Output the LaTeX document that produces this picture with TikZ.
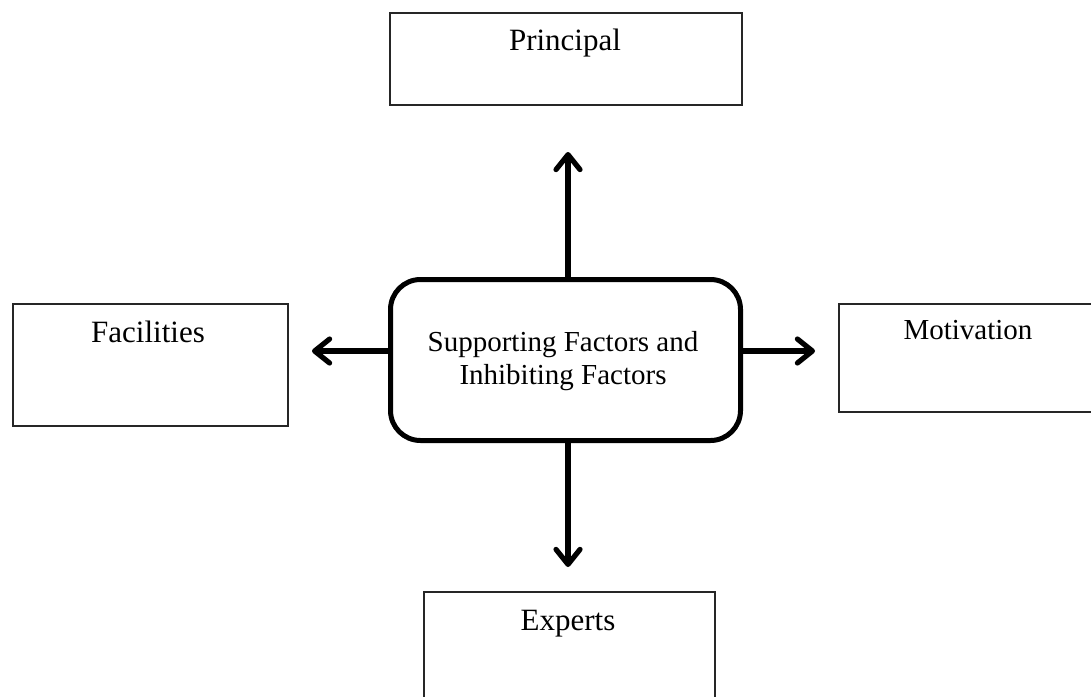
\documentclass[tikz,border=0pt]{standalone}
\usepackage{fontspec}
\setmainfont{Liberation Serif}
\usetikzlibrary{arrows.meta}
\begin{document}
\begin{tikzpicture}[x=1pt,y=-1pt,
  obox/.style={draw=black!85, line width=1.5pt, anchor=north west, inner sep=0pt},
  olabel/.style={anchor=base, inner sep=0pt, font=\fontsize{31}{36}\selectfont},
  cbox/.style={draw=black, line width=5pt, rounded corners=30pt, anchor=north west, inner sep=0pt, minimum width=350pt, minimum height=161pt},
  clabel/.style={align=center, inner sep=0pt, font=\fontsize{29}{33}\selectfont},
  arr/.style={line width=5.2pt, -{Straight Barb[length=15pt,width=24pt,line cap=round,line join=round]}}]
\useasboundingbox (0,0) rectangle (1091,696);
\clip (0,0) rectangle (1091,696);
% outer boxes
\node[obox, minimum width=352pt, minimum height=92pt] (pbox) at (389,12) {};
\node[olabel] (plab) at (565,50) {Principal};
\node[obox, minimum width=275pt, minimum height=122pt] (fbox) at (12,303) {};
\node[olabel] (flab) at (148,342) {Facilities};
\node[obox, minimum width=260pt, minimum height=108pt] (mbox) at (838,303) {};
\node[olabel, font=\fontsize{29}{33}\selectfont] (mlab) at (968,339) {Motivation};
\node[obox, minimum width=291pt, minimum height=140pt] (ebox) at (423,591) {};
\node[olabel] (elab) at (568,630) {Experts};
% center
\node[cbox] (c) at (388,277) {};
\node[clabel] (clab) at (563,361) {Supporting Factors and\\Inhibiting Factors};
% arrow tips
\coordinate (upT) at (568,152);
\coordinate (dnT) at (568,567);
\coordinate (lfT) at (312,351);
\coordinate (rtT) at (815,351);
\draw[arr] (c.north -| upT) -- (upT);
\draw[arr] (c.south -| dnT) -- (dnT);
\draw[arr] (c.west |- lfT) -- (lfT);
\draw[arr] (c.east |- rtT) -- (rtT);
\end{tikzpicture}
\end{document}
